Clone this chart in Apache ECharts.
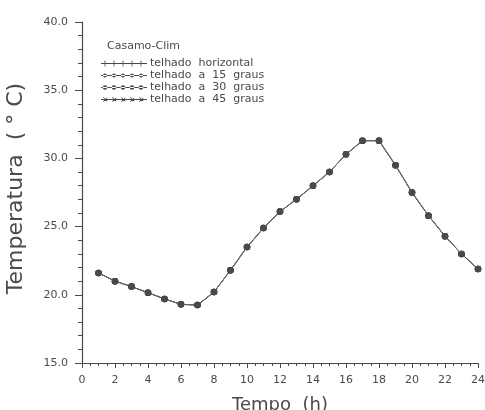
<!DOCTYPE html>
<html>
<head>
<meta charset="utf-8">
<script src="https://cdn.jsdelivr.net/npm/echarts@6/dist/echarts.min.js"></script>
<style>
  html, body { margin: 0; padding: 0; background: #fff; }
  #chart-container { width: 485px; height: 410px; }
</style>
</head>
<body>
<div id="chart-container"></div>
<script>
// hours of the day and temperatures
var hours = [1, 2, 3, 4, 5, 6, 7, 8, 9, 10, 11, 12, 13, 14, 15, 16, 17, 18, 19, 20, 21, 22, 23, 24];
var telhadoHorizontal = [21.6, 21.0, 20.6, 20.15, 19.7, 19.3, 19.25, 20.2, 21.8, 23.5, 24.9, 26.1, 27.0, 28.0, 29.0, 30.3, 31.3, 31.3, 29.5, 27.5, 25.8, 24.3, 23.0, 21.9];
var telhado15 = [21.6, 21.0, 20.6, 20.15, 19.7, 19.3, 19.25, 20.2, 21.8, 23.5, 24.9, 26.1, 27.0, 28.0, 29.0, 30.3, 31.3, 31.3, 29.5, 27.5, 25.8, 24.3, 23.0, 21.9];
var telhado30 = [21.6, 21.0, 20.6, 20.15, 19.7, 19.3, 19.25, 20.2, 21.8, 23.5, 24.9, 26.1, 27.0, 28.0, 29.0, 30.3, 31.3, 31.3, 29.5, 27.5, 25.8, 24.3, 23.0, 21.9];
var telhado45 = [21.6, 21.0, 20.6, 20.15, 19.7, 19.3, 19.25, 20.2, 21.8, 23.5, 24.9, 26.1, 27.0, 28.0, 29.0, 30.3, 31.3, 31.3, 29.5, 27.5, 25.8, 24.3, 23.0, 21.9];
var seriesNames = ['telhado  horizontal', 'telhado  a  15  graus', 'telhado  a  30  graus', 'telhado  a  45  graus'];

var dom = document.getElementById('chart-container');
var myChart = echarts.init(dom, null, { renderer: 'canvas' });

var ink = '#4a4a4a';
var font = 'DejaVu Sans';

function pairs(values) {
  return hours.map(function (h, i) { return [h, values[i]]; });
}

// legend icons: a line with five little marks on it
var iconCross = 'path://M0,2.6H46V3.4H0Z' +
  'M3.6,0H4.4V6H3.6Z M12.6,0H13.4V6H12.6Z M21.6,0H22.4V6H21.6Z M30.6,0H31.4V6H30.6Z M39.6,0H40.4V6H39.6Z';
function dots(r) {
  var d = 'path://M0,2.6H46V3.4H0Z';
  [4, 13, 22, 31, 40].forEach(function (cx) {
    d += 'M' + (cx - r) + ',3a' + r + ',' + r + ' 0 1,0 ' + (2 * r) + ',0a' + r + ',' + r + ' 0 1,0 ' + (-2 * r) + ',0Z';
  });
  return d;
}
var iconStar = 'path://M0,2.6H46V3.4H0Z' +
  'M2,1L6,5L6.5,4.5L2.5,0.5Z M2,5L6,1L6.5,1.5L2.5,5.5Z' +
  'M11,1L15,5L15.5,4.5L11.5,0.5Z M11,5L15,1L15.5,1.5L11.5,5.5Z' +
  'M20,1L24,5L24.5,4.5L20.5,0.5Z M20,5L24,1L24.5,1.5L20.5,5.5Z' +
  'M29,1L33,5L33.5,4.5L29.5,0.5Z M29,5L33,1L33.5,1.5L29.5,5.5Z' +
  'M38,1L42,5L42.5,4.5L38.5,0.5Z M38,5L42,1L42.5,1.5L38.5,5.5Z';

function lineSeries(name, values) {
  return {
    name: name,
    type: 'line',
    data: pairs(values),
    symbol: 'circle',
    symbolSize: 6.5,
    lineStyle: { color: '#666', width: 1 },
    itemStyle: { color: ink },
    animation: false
  };
}

var option = {
  backgroundColor: '#fff',
  title: {
    text: 'Casamo-Clim',
    left: 102,
    top: 36,
    textStyle: { fontFamily: font, fontSize: 11, fontWeight: 'normal', color: ink }
  },
  legend: {
    orient: 'vertical',
    left: 96,
    top: 53,
    itemGap: 1,
    itemWidth: 46,
    itemHeight: 6,
    textStyle: { fontFamily: font, fontSize: 11, color: ink, padding: [0, 0, 0, -2] },
    data: [
      { name: seriesNames[0], icon: iconCross },
      { name: seriesNames[1], icon: dots(2) },
      { name: seriesNames[2], icon: dots(2.3) },
      { name: seriesNames[3], icon: iconStar }
    ]
  },
  grid: { left: 82, right: 7, top: 22, bottom: 47, outerBoundsMode: 'none', containLabel: false },
  xAxis: {
    type: 'value',
    min: 0,
    max: 24,
    interval: 2,
    name: 'Tempo  (h)',
    nameLocation: 'middle',
    nameGap: 33,
    nameTextStyle: { fontFamily: font, fontSize: 18, color: ink },
    axisLine: { lineStyle: { color: ink, width: 1.2 } },
    axisTick: { length: 5, lineStyle: { color: ink } },
    minorTick: { show: true, splitNumber: 4, length: 3, lineStyle: { color: ink } },
    axisLabel: { fontFamily: font, fontSize: 11, color: ink, margin: 12 },
    splitLine: { show: false }
  },
  yAxis: {
    type: 'value',
    min: 15,
    max: 40,
    interval: 5,
    name: 'Temperatura  ( ° C)',
    nameLocation: 'middle',
    nameRotate: 90,
    nameGap: 55,
    nameTextStyle: { fontFamily: font, fontSize: 22, color: ink, padding: [0, 0, 0, 8] },
    axisLine: { show: true, lineStyle: { color: ink, width: 1.2 } },
    axisTick: { show: true, length: 7, lineStyle: { color: ink } },
    minorTick: { show: true, splitNumber: 5, length: 4, lineStyle: { color: ink } },
    axisLabel: {
      fontFamily: font, fontSize: 11, color: ink, margin: 14,
      formatter: function (v) { return v.toFixed(1); }
    },
    splitLine: { show: false }
  },
  series: [
    lineSeries(seriesNames[0], telhadoHorizontal),
    lineSeries(seriesNames[1], telhado15),
    lineSeries(seriesNames[2], telhado30),
    lineSeries(seriesNames[3], telhado45)
  ]
};

myChart.setOption(option);
window.addEventListener('resize', myChart.resize);
</script>
</body>
</html>
